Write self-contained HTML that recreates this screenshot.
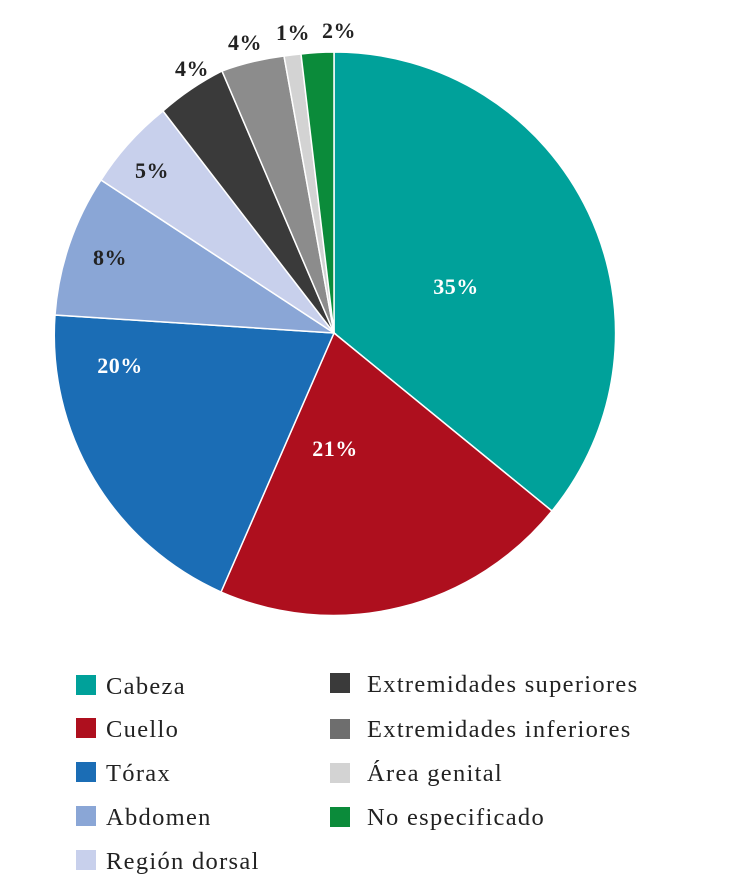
<!DOCTYPE html>
<html><head><meta charset="utf-8"><style>
body{margin:0;background:#fff;width:750px;height:888px;overflow:hidden}
svg{display:block}
text{font-family:"Liberation Serif",serif}
</style></head><body>
<svg width="750" height="888" viewBox="0 0 750 888">
<g stroke="#fff" stroke-width="1.5">
<path d="M334,333 L334,52 A281,281 0 0 1 552,511 Z" fill="#00a19a"/>
<path d="M334,333 L552,511 A281,281 0 0 1 221,592 Z" fill="#ae0f1e"/>
<path d="M334,333 L221,592 A281,281 0 0 1 55,315 Z" fill="#1b6db5"/>
<path d="M334,333 L55,315 A281,281 0 0 1 101,180 Z" fill="#8aa6d6"/>
<path d="M334,333 L101,180 A281,281 0 0 1 163,111 Z" fill="#c8d0ec"/>
<path d="M334,333 L163,111 A281,281 0 0 1 222,71 Z" fill="#3a3a3a"/>
<path d="M334,333 L222,71 A281,281 0 0 1 284,56 Z" fill="#8c8c8c"/>
<path d="M334,333 L284,56 A281,281 0 0 1 301,54 Z" fill="#d3d3d3"/>
<path d="M334,333 L301,54 A281,281 0 0 1 334,52 Z" fill="#0b8b3a"/>
</g>
<g font-weight="bold" font-size="22" text-anchor="middle" letter-spacing="0.5">
<text x="456" y="294" fill="#fff">35%</text>
<text x="335" y="456" fill="#fff">21%</text>
<text x="120" y="373" fill="#fff">20%</text>
<text x="110" y="265" fill="#222">8%</text>
<text x="152" y="178" fill="#222">5%</text>
<text x="192" y="76" fill="#222">4%</text>
<text x="245" y="50" fill="#222">4%</text>
<text x="293" y="40" fill="#222">1%</text>
<text x="339" y="38" fill="#222">2%</text>
</g>
<g font-size="24.5" fill="#222" letter-spacing="1.3">
<rect x="76" y="675" width="20" height="20" fill="#00a19a"/><text x="106" y="694">Cabeza</text>
<rect x="76" y="718" width="20" height="20" fill="#ae0f1e"/><text x="106" y="737">Cuello</text>
<rect x="76" y="762" width="20" height="20" fill="#1b6db5"/><text x="106" y="781">Tórax</text>
<rect x="76" y="806" width="20" height="20" fill="#8aa6d6"/><text x="106" y="825">Abdomen</text>
<rect x="76" y="850" width="20" height="20" fill="#c8d0ec"/><text x="106" y="869">Región dorsal</text>
<rect x="330" y="673" width="20" height="20" fill="#3a3a3a"/><text x="367" y="692">Extremidades superiores</text>
<rect x="330" y="719" width="20" height="20" fill="#6e6e6e"/><text x="367" y="737">Extremidades inferiores</text>
<rect x="330" y="763" width="20" height="20" fill="#d3d3d3"/><text x="367" y="781">Área genital</text>
<rect x="330" y="807" width="20" height="20" fill="#0b8b3a"/><text x="367" y="825">No especificado</text>
</g>
</svg>
</body></html>
